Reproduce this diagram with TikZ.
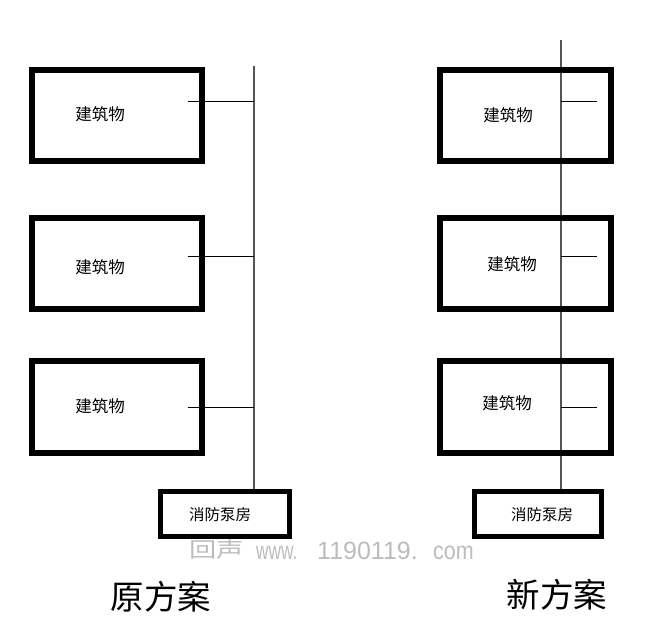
\documentclass[tikz,border=0pt]{standalone}
\usepackage{fontspec}
\newfontfamily\cjk{Noto Sans CJK SC}
\newfontfamily\wmfont{Liberation Sans}
\definecolor{pipe}{RGB}{85,85,85}
\definecolor{wm}{RGB}{188,188,188}
\begin{document}
\begin{tikzpicture}[x=1pt,y=-1pt,
  bldbox/.style={draw, line width=6pt, minimum height=91.5pt, inner sep=0pt},
  pumpbox/.style={draw, line width=5.5pt, minimum height=45pt, inner sep=0pt},
  bldtext/.style={font=\cjk\fontsize{16.5}{16.5}\selectfont, inner sep=0pt},
  pumptext/.style={font=\cjk\fontsize{15.5}{15.5}\selectfont, inner sep=0pt},
  bigtext/.style={font=\cjk\fontsize{33.5}{33.5}\selectfont, inner sep=0pt},
  wmtext/.style={font=\wmfont\fontsize{25}{25}\selectfont, text=wm, inner sep=0pt, anchor=base west},
  pipeline/.style={draw=pipe, line width=1.2pt},
  branch/.style={draw=black, line width=1pt}]
\useasboundingbox (0,0) rectangle (662,636);

% coordinates for pipe tops and branch starts
\coordinate (topL) at (254,66);
\coordinate (topR) at (561,40);
\coordinate (bL1) at (188,102);
\coordinate (bL2) at (188,257);
\coordinate (bL3) at (188,408);
\coordinate (bR1) at (597,102);
\coordinate (bR2) at (597,257);
\coordinate (bR3) at (597,408);

% pump rooms
\node[pumpbox, minimum width=129pt] (pumpL) at (225,514) {};
\node[pumpbox, minimum width=127pt] (pumpR) at (538,514) {};

% main pipes (drawn under boxes)
\draw[pipeline] (topL) -- (topL |- pumpL.north);
\draw[pipeline] (topR) -- (topR |- pumpR.north);

% buildings, original scheme
\node[bldbox, minimum width=170pt] (L1) at (117,115.5) {};
\node[bldbox, minimum width=170pt] (L2) at (117,263.5) {};
\node[bldbox, minimum width=170pt] (L3) at (117,407) {};
% buildings, new scheme
\node[bldbox, minimum width=171pt] (R1) at (525.5,115.5) {};
\node[bldbox, minimum width=171pt] (R2) at (525.5,263.5) {};
\node[bldbox, minimum width=171pt] (R3) at (525.5,407) {};

% branches
\draw[branch] (bL1) -- (bL1 -| topL);
\draw[branch] (bL2) -- (bL2 -| topL);
\draw[branch] (bL3) -- (bL3 -| topL);
\draw[branch] (bR1) -- (bR1 -| topR);
\draw[branch] (bR2) -- (bR2 -| topR);
\draw[branch] (bR3) -- (bR3 -| topR);

% texts
\node[bldtext] (tL1) at (100,114) {建筑物};
\node[bldtext] (tL2) at (100,267) {建筑物};
\node[bldtext] (tL3) at (100,406) {建筑物};
\node[bldtext] (tR1) at (508,115) {建筑物};
\node[bldtext] (tR2) at (512,264) {建筑物};
\node[bldtext] (tR3) at (507,403) {建筑物};
\node[pumptext] (tpL) at (220,515) {消防泵房};
\node[pumptext] (tpR) at (542,515) {消防泵房};

% watermark
\node[font=\cjk\fontsize{21}{21}\selectfont, text=wm, inner sep=0pt, xscale=1.3] (wm1) at (216.5,550) {回声};
\node[wmtext, xscale=0.69] (wm2) at (256,559) {www.};
\node[wmtext] (wm3) at (317,559) {1190119.};
\node[wmtext, xscale=0.86] (wm4) at (433,559) {com};

% scheme labels
\node[bigtext] (lblL) at (161,597) {原方案};
\node[bigtext] (lblR) at (557,595) {新方案};
\end{tikzpicture}
\end{document}
